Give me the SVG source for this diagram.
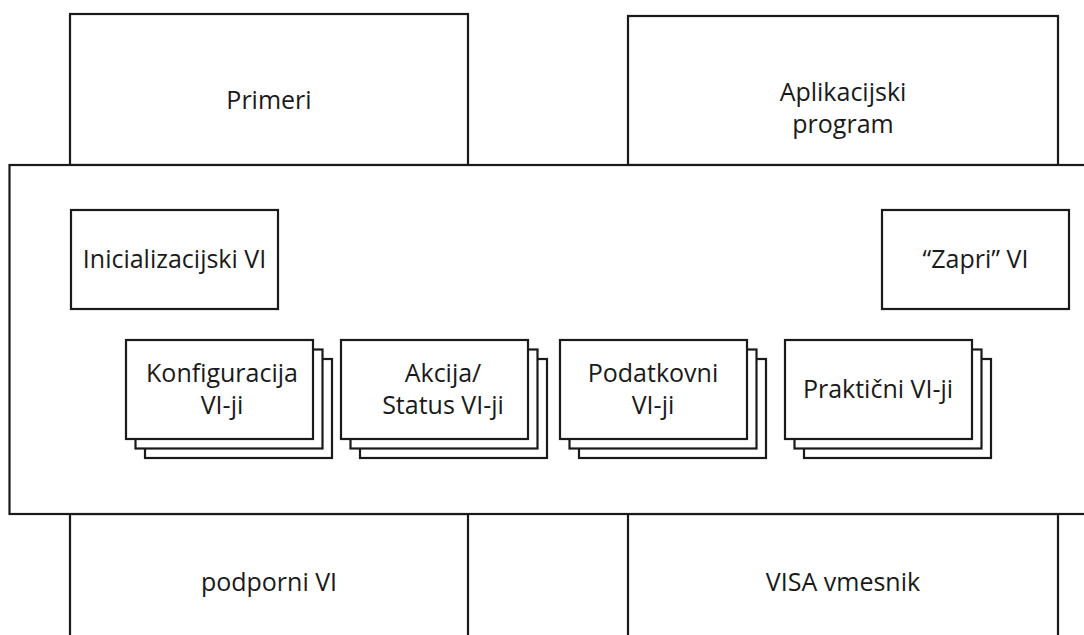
<svg xmlns="http://www.w3.org/2000/svg" width="1084" height="635" viewBox="0 0 1084 635">
<style>
.b{fill:#fff;stroke:#1a1a1a;stroke-width:2.2}
.t{font-family:"Open Sans","Liberation Sans",sans-serif;font-size:25px;fill:#1a1a1a;text-anchor:middle}
</style>
<rect width="1084" height="635" fill="#fff"/>
<g id="primeri"><rect class="b" x="70" y="14" width="398" height="151"/><text class="t" x="269" y="109">Primeri</text></g>
<g id="aplikacijski"><rect class="b" x="628" y="16" width="430" height="149"/><text class="t" x="843" y="101">Aplikacijski</text><text class="t" x="843" y="133">program</text></g>
<g id="podporni"><rect class="b" x="70" y="514" width="398" height="130"/><text class="t" x="269" y="591">podporni VI</text></g>
<g id="visa"><rect class="b" x="628" y="514" width="430" height="130"/><text class="t" x="843" y="591">VISA vmesnik</text></g>
<g id="main"><rect class="b" x="9.5" y="165" width="1090" height="349"/></g>
<g id="inicializacijski"><rect class="b" x="71" y="210" width="207" height="99"/><text class="t" x="174.5" y="268">Inicializacijski VI</text></g>
<g id="zapri"><rect class="b" x="882" y="210" width="187" height="99"/><text class="t" x="975.5" y="268">“Zapri” VI</text></g>
<g id="konfiguracija">
<rect class="b" x="145" y="359" width="187" height="99"/><rect class="b" x="135.5" y="349.5" width="187" height="99"/><rect class="b" x="126" y="340" width="187" height="99"/>
<text class="t" x="222" y="382">Konfiguracija</text><text class="t" x="222" y="414">VI-ji</text></g>
<g id="akcija">
<rect class="b" x="360" y="359" width="187" height="99"/><rect class="b" x="350.5" y="349.5" width="187" height="99"/><rect class="b" x="341" y="340" width="187" height="99"/>
<text class="t" x="443" y="382">Akcija/</text><text class="t" x="443" y="414">Status VI-ji</text></g>
<g id="podatkovni">
<rect class="b" x="579" y="359" width="187" height="99"/><rect class="b" x="569.5" y="349.5" width="187" height="99"/><rect class="b" x="560" y="340" width="187" height="99"/>
<text class="t" x="653" y="382">Podatkovni</text><text class="t" x="653" y="414">VI-ji</text></g>
<g id="prakticni">
<rect class="b" x="804" y="359" width="187" height="99"/><rect class="b" x="794.5" y="349.5" width="187" height="99"/><rect class="b" x="785" y="340" width="187" height="99"/>
<text class="t" x="878" y="398">Praktični VI-ji</text></g>
<g id="connectors"/>
</svg>
